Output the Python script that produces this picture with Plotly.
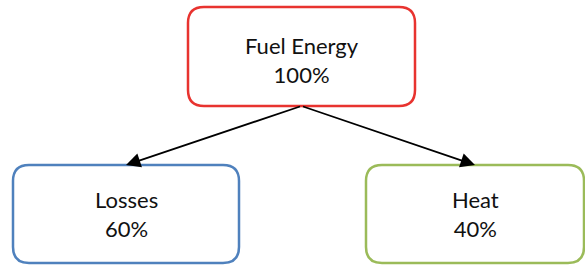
import plotly.graph_objects as go

# Data
labels = ["Fuel Energy", "Losses", "Heat"]
shares = [100, 60, 40]
colors = ["#e8332f", "#4f81bd", "#9bbb59"]
# box geometry (x0, x1, y0, y1) in pixel-like axis units
boxes = [(188, 415, 7, 106), (13, 239, 165, 263), (366, 584, 165, 263)]
text_dy = [3, 0, 0]
links = [(0, 1), (0, 2)]

R = 16

def rounded(x0, x1, y0, y1, r):
    return (f"M{x0+r},{y0} L{x1-r},{y0} Q{x1},{y0} {x1},{y0+r} "
            f"L{x1},{y1-r} Q{x1},{y1} {x1-r},{y1} L{x0+r},{y1} "
            f"Q{x0},{y1} {x0},{y1-r} L{x0},{y0+r} Q{x0},{y0} {x0+r},{y0} Z")

fig = go.Figure()
shapes = []
annotations = []
for (x0, x1, y0, y1), lab, val, col, dy in zip(boxes, labels, shares, colors, text_dy):
    shapes.append(dict(type="path", xref="x", yref="y", path=rounded(x0, x1, y0, y1, R),
                       line=dict(color=col, width=2.5), fillcolor="white", layer="below"))
    annotations.append(dict(x=(x0 + x1) / 2, y=(y0 + y1) / 2 + dy, xref="x", yref="y",
                            text=f"{lab}<br>{val}%", showarrow=False,
                            font=dict(family="Lato, Open Sans, sans-serif", size=22, color="#111"),
                            align="center"))

for s, t in links:
    sx = (boxes[s][0] + boxes[s][1]) / 2
    sy = boxes[s][3]
    tx = (boxes[t][0] + boxes[t][1]) / 2
    ty = boxes[t][2]
    annotations.append(dict(x=tx, y=ty, ax=sx, ay=sy, xref="x", yref="y", axref="x", ayref="y",
                            showarrow=True, arrowhead=2, arrowsize=1.6, arrowwidth=1.8,
                            arrowcolor="black", text=""))

fig.add_trace(go.Scatter(x=[0, 585], y=[0, 265], mode="markers", marker=dict(opacity=0),
                         hoverinfo="skip", showlegend=False))
fig.update_layout(width=585, height=265, margin=dict(l=0, r=0, t=0, b=0),
                  paper_bgcolor="white", plot_bgcolor="white",
                  shapes=shapes, annotations=annotations, showlegend=False,
                  xaxis=dict(range=[0, 585], visible=False, fixedrange=True),
                  yaxis=dict(range=[265, 0], visible=False, fixedrange=True))
fig.write_html("out.html", config={"displayModeBar": False},
               post_script="document.body.style.margin='0';document.body.style.overflow='hidden';")
